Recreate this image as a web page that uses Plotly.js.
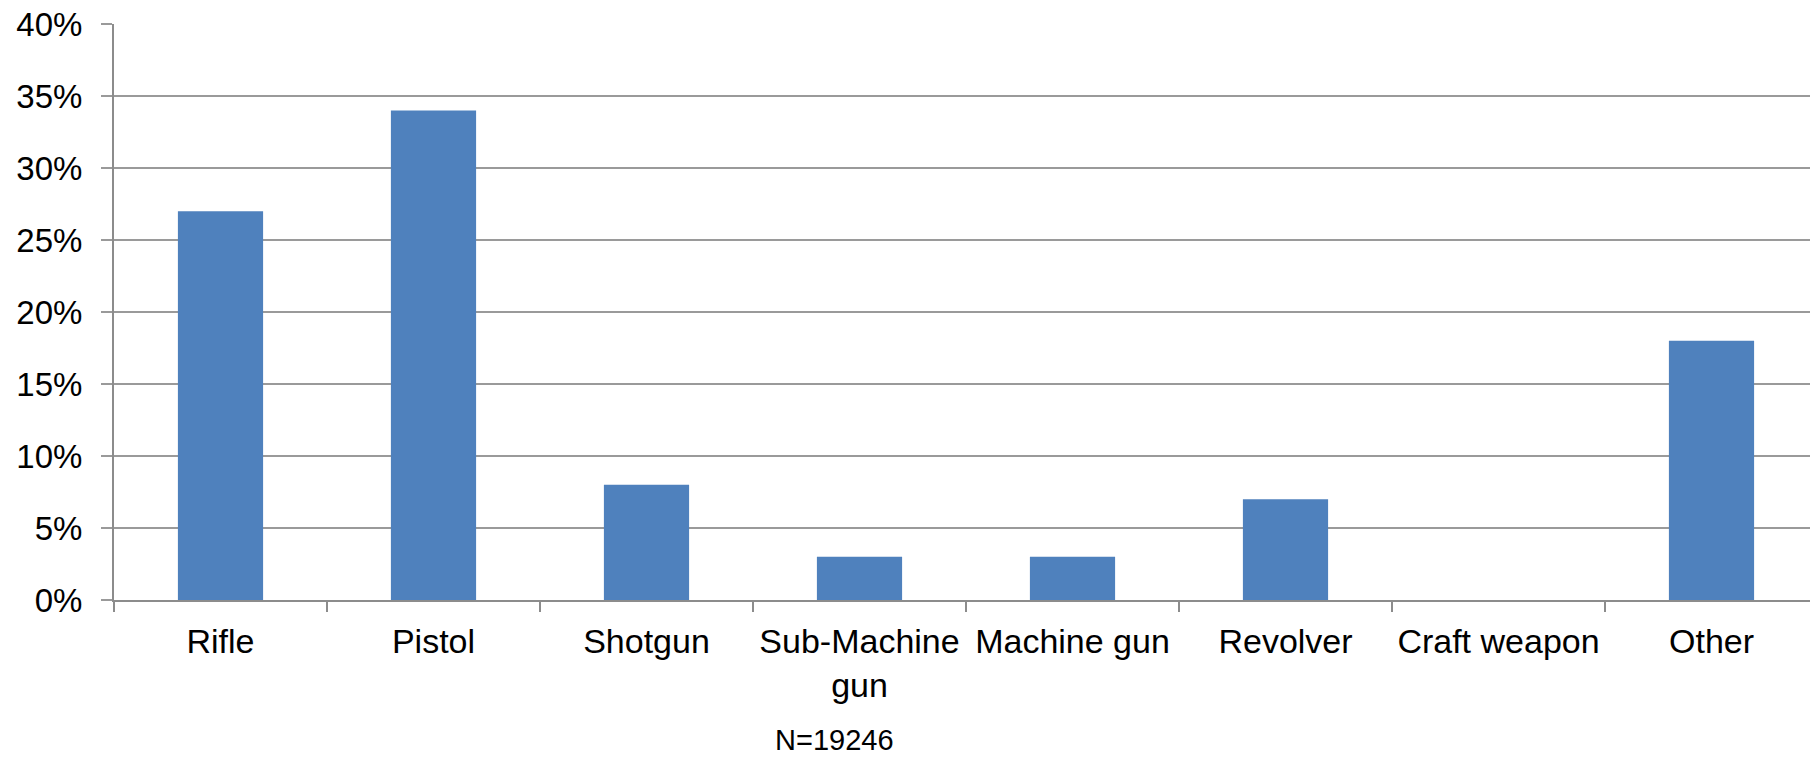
<!DOCTYPE html>
<html>
<head>
<meta charset="utf-8">
<script src="https://cdn.plot.ly/plotly-3.0.1.min.js"></script>
<style>
html, body { margin: 0; padding: 0; overflow: hidden; background: #fff; }
#chart { width: 1818px; height: 758px; }
</style>
</head>
<body>
<div id="chart"></div>
<script>
const categories = ["Rifle", "Pistol", "Shotgun", "Sub-Machine<br>gun", "Machine gun", "Revolver", "Craft weapon", "Other"];
const shares = [0.27, 0.34, 0.08, 0.03, 0.03, 0.07, 0.0, 0.18];
const yTickValues = [0, 0.05, 0.10, 0.15, 0.20, 0.25, 0.30, 0.35, 0.40];
const noteText = "N=19246";

const font = "Liberation Sans, Arial, sans-serif";

Plotly.newPlot("chart", [{
  type: "bar",
  x: categories,
  y: shares,
  marker: { color: "#4f81bd", line: { width: 0 } },
  hoverinfo: "skip"
}], {
  width: 1818,
  height: 758,
  margin: { l: 114, r: 0, t: 24, b: 158, pad: 0 },
  paper_bgcolor: "#ffffff",
  plot_bgcolor: "#ffffff",
  bargap: 0.6,
  showlegend: false,
  font: { family: font, color: "#000000" },
  xaxis: {
    type: "category",
    range: [-0.5, 7.5],
    tickson: "boundaries",
    ticks: "outside",
    ticklen: 10,
    tickwidth: 2,
    tickcolor: "#8c8c8c",
    showline: true,
    linecolor: "#8c8c8c",
    linewidth: 2,
    showgrid: false,
    zeroline: false,
    tickfont: { family: font, size: 34, color: "#000000" },
    ticklabelstandoff: 10,
    fixedrange: true
  },
  yaxis: {
    range: [0, 0.40],
    tickvals: yTickValues,
    tickformat: ".0%",
    ticks: "outside",
    ticklen: 11,
    tickwidth: 2,
    tickcolor: "#9a9a9a",
    showline: true,
    linecolor: "#8c8c8c",
    linewidth: 2,
    showgrid: true,
    gridcolor: "#9a9a9a",
    gridwidth: 2,
    zeroline: false,
    tickfont: { family: font, size: 33, color: "#000000" },
    ticklabelstandoff: 12,
    fixedrange: true
  },
  annotations: [{
    text: noteText,
    xref: "paper", yref: "paper",
    x: 0.423, y: -0.2743,
    xanchor: "center", yanchor: "bottom",
    showarrow: false,
    font: { family: font, size: 29, color: "#000000" }
  }]
}, { displayModeBar: false, staticPlot: true });
</script>
</body>
</html>
